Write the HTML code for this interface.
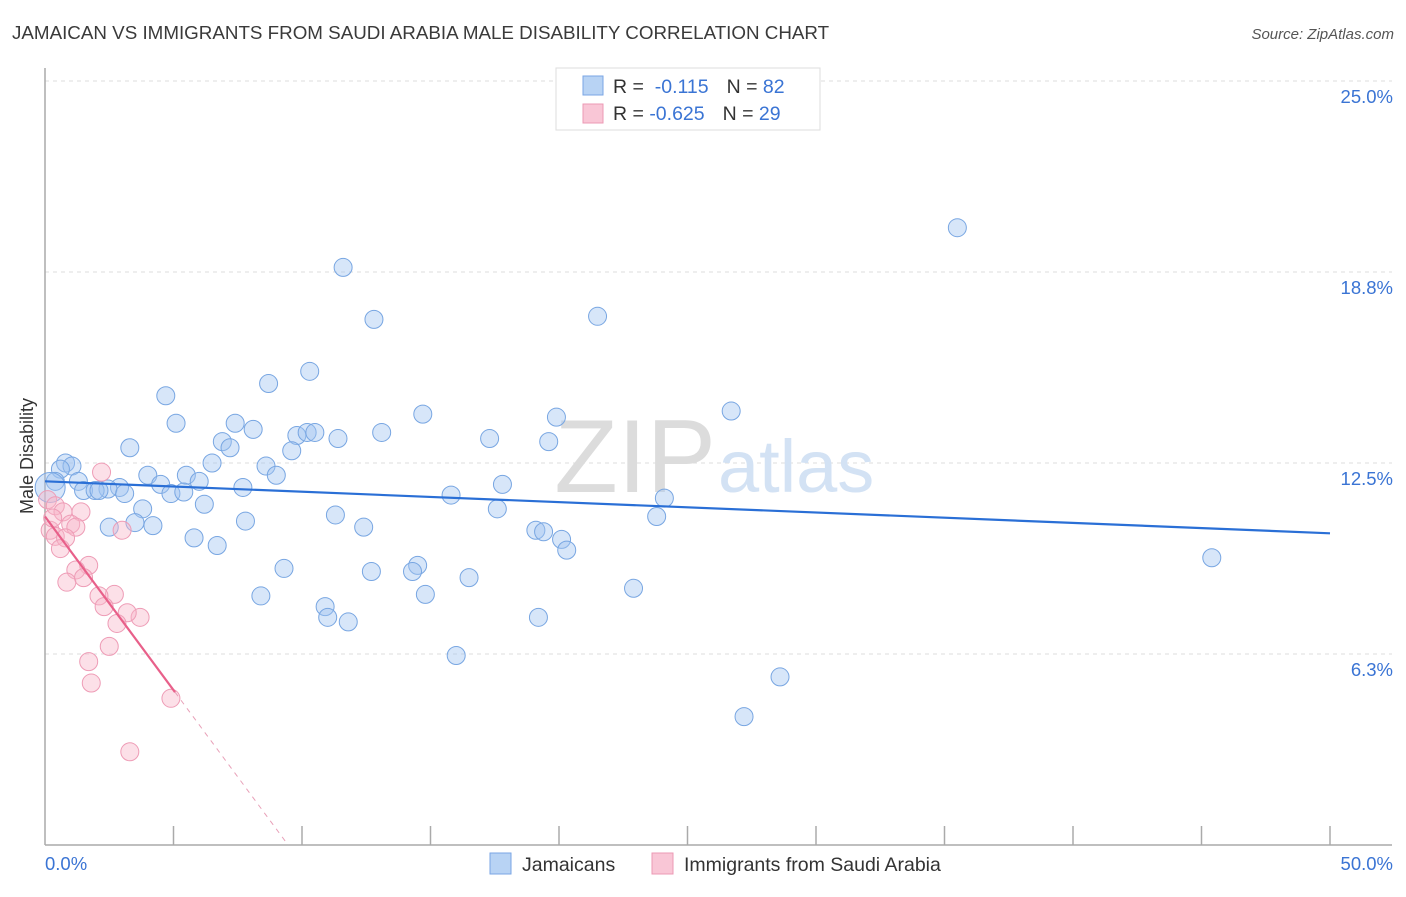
<!DOCTYPE html>
<html><head><meta charset="utf-8"><style>
body{margin:0;background:#fff;font-family:"Liberation Sans",sans-serif}
svg text{font-family:"Liberation Sans",sans-serif}
</style></head><body>
<svg width="1406" height="892" viewBox="0 0 1406 892">
<text x="12" y="39" font-size="18.8" fill="#3a3a3a">JAMAICAN VS IMMIGRANTS FROM SAUDI ARABIA MALE DISABILITY CORRELATION CHART</text>
<text x="1394" y="39" font-size="15" fill="#555" font-style="italic" text-anchor="end">Source: ZipAtlas.com</text>
<g id="grid"></g>
<g id="yt"></g>
<g id="xt"></g>
<line x1="45" y1="68" x2="45" y2="845" stroke="#aaa" stroke-width="1.5"/>
<line x1="45" y1="845" x2="1392" y2="845" stroke="#aaa" stroke-width="1.5"/>
<text x="33" y="456" font-size="18" fill="#333" text-anchor="middle" transform="rotate(-90 33 456)">Male Disability</text>
<text x="716" y="492" font-size="104" fill="#dcdcdc" text-anchor="end" font-family="Liberation Serif">ZIP</text>
<text x="718" y="492" font-size="74" fill="#d3e2f4">atlas</text>
<g id="pts"></g>
<g id="trend"></g>
<g>
<rect x="556" y="68" width="264" height="62" fill="#fff" stroke="#ddd"/>
<rect x="583" y="76" width="20" height="19" fill="#b8d3f4" stroke="#7aa6e4"/>
<rect x="583" y="104" width="20" height="19" fill="#f9c6d6" stroke="#ec99b4"/>
<text x="613" y="93" font-size="19.5" fill="#333">R = <tspan fill="#3a74d4">&#160;-0.115</tspan><tspan dx="18">N = </tspan><tspan fill="#3a74d4">82</tspan></text>
<text x="613" y="120" font-size="19.5" fill="#333">R = <tspan fill="#3a74d4">-0.625</tspan><tspan dx="18">N = </tspan><tspan fill="#3a74d4">29</tspan></text>
</g>
<g>
<rect x="490" y="853" width="21" height="21" fill="#b8d3f4" stroke="#7aa6e4"/>
<text x="522" y="871" font-size="19.5" fill="#333">Jamaicans</text>
<rect x="652" y="853" width="21" height="21" fill="#f9c6d6" stroke="#ec99b4"/>
<text x="684" y="871" font-size="19.5" fill="#333">Immigrants from Saudi Arabia</text>
</g>
</svg>
<script>
const blueX=[35.5,11.6,12.8,21.5,10.3,8.7,4.7,26.7,14.7,19.9,5.1,7.4,8.1,13.1,9.8,10.2,10.5,11.4,6.9,17.3,19.6,3.3,7.2,9.6,6.5,0.8,1.05,0.6,8.6,4.0,5.5,9.0,0.4,1.3,4.5,6.0,17.8,7.7,2.9,2.45,1.5,1.95,4.9,5.4,3.1,15.8,24.1,6.2,3.8,17.6,11.3,23.8,7.8,3.5,4.2,2.5,12.4,19.1,19.4,5.8,20.1,20.3,6.7,45.4,9.3,14.5,12.7,14.3,16.5,22.9,8.4,14.8,10.9,19.2,11.0,11.8,16.0,28.6,27.2,2.1,0.2];
const blueY=[20.2,18.9,17.2,17.3,15.5,15.1,14.7,14.2,14.1,14.0,13.8,13.8,13.6,13.5,13.4,13.5,13.5,13.3,13.2,13.3,13.2,13.0,13.0,12.9,12.5,12.5,12.4,12.3,12.4,12.1,12.1,12.1,11.9,11.9,11.8,11.9,11.8,11.7,11.7,11.65,11.6,11.6,11.5,11.55,11.5,11.45,11.35,11.15,11.0,11.0,10.8,10.75,10.6,10.55,10.45,10.4,10.4,10.3,10.25,10.05,10.0,9.65,9.8,9.4,9.05,9.15,8.95,8.95,8.75,8.4,8.15,8.2,7.8,7.45,7.45,7.3,6.2,5.5,4.2,11.6,11.7];
const pinkX=[2.2,0.1,0.4,1.4,0.7,1.0,0.2,1.2,0.4,0.8,3.0,0.6,1.7,1.2,0.85,1.5,2.7,2.1,2.3,3.7,3.2,2.8,2.5,1.7,1.8,4.9,3.3,0.3];
const pinkY=[12.2,11.3,11.1,10.9,10.9,10.5,10.3,10.4,10.1,10.05,10.3,9.7,9.15,9.0,8.6,8.75,8.2,8.15,7.8,7.45,7.6,7.25,6.5,6.0,5.3,4.8,3.05,10.7];
const yTicks=[6.25,12.5,18.75,25];
const yTickLabels=["6.3%","12.5%","18.8%","25.0%"];
const xTicks=[0,5,10,15,20,25,30,35,40,45,50];
const blueTrend=[11.9,10.2]; // y at x=0 and x=50
const pinkTrend=[10.75,5.0,5.06]; // y at 0, y at end-x, end-x
const NS="http://www.w3.org/2000/svg";
const sx=v=>45+v*25.7, sy=v=>845-v*30.56;
function mk(t,a,p){const e=document.createElementNS(NS,t);for(const k in a)e.setAttribute(k,a[k]);p.appendChild(e);return e;}
const grid=document.getElementById('grid'),yt=document.getElementById('yt'),xt=document.getElementById('xt'),pts=document.getElementById('pts'),tr=document.getElementById('trend');
yTicks.forEach((v,i)=>{
 const l=mk('line',{x1:45,x2:1392,y1:sy(v),y2:sy(v),stroke:'#ddd','stroke-dasharray':'4,4'},grid);
 
 
 const t=mk('text',{x:1393,y:sy(v)+22,'font-size':18.5,fill:'#3a74d4','text-anchor':'end'},yt);
 t.textContent=yTickLabels[i];
 
 
});
xTicks.forEach(v=>{
 if(v>0){const l=mk('line',{x1:sx(v),x2:sx(v),y1:826,y2:845,stroke:'#aaa','stroke-width':1.5},xt);
 
 }
});
const t0=mk('text',{x:45,y:870,'font-size':18.5,fill:'#3a74d4'},xt);t0.textContent="0.0%";


const t1=mk('text',{x:1393,y:870,'font-size':18.5,fill:'#3a74d4','text-anchor':'end'},xt);t1.textContent="50.0%";


blueX.forEach((x,i)=>{
 const big=i===blueX.length-1;
 const c=mk('circle',{cx:sx(x),cy:sy(blueY[i]),r:big?15:9,fill:'rgba(160,196,240,0.42)',stroke:'#78a6e2','stroke-width':1},pts);
 
 
});
pinkX.forEach((x,i)=>{
 const c=mk('circle',{cx:sx(x),cy:sy(pinkY[i]),r:9,fill:'rgba(248,180,200,0.42)',stroke:'#ee9cb6','stroke-width':1},pts);
 
 
});
const bl=mk('line',{x1:sx(0),y1:sy(blueTrend[0]),x2:sx(50),y2:sy(blueTrend[1]),stroke:'#2a6fd6','stroke-width':2.2},tr);


const slope=(pinkTrend[1]-pinkTrend[0])/pinkTrend[2];
const pl=mk('line',{x1:sx(0),y1:sy(pinkTrend[0]),x2:sx(pinkTrend[2]),y2:sy(pinkTrend[1]),stroke:'#e8608a','stroke-width':2.2},tr);


const xz=-pinkTrend[0]/slope;
const pd=mk('line',{x1:sx(pinkTrend[2]),y1:sy(pinkTrend[1]),x2:sx(xz),y2:sy(0),stroke:'#e8a0b8','stroke-width':1,'stroke-dasharray':'5,5'},tr);


</script>
</body></html>
